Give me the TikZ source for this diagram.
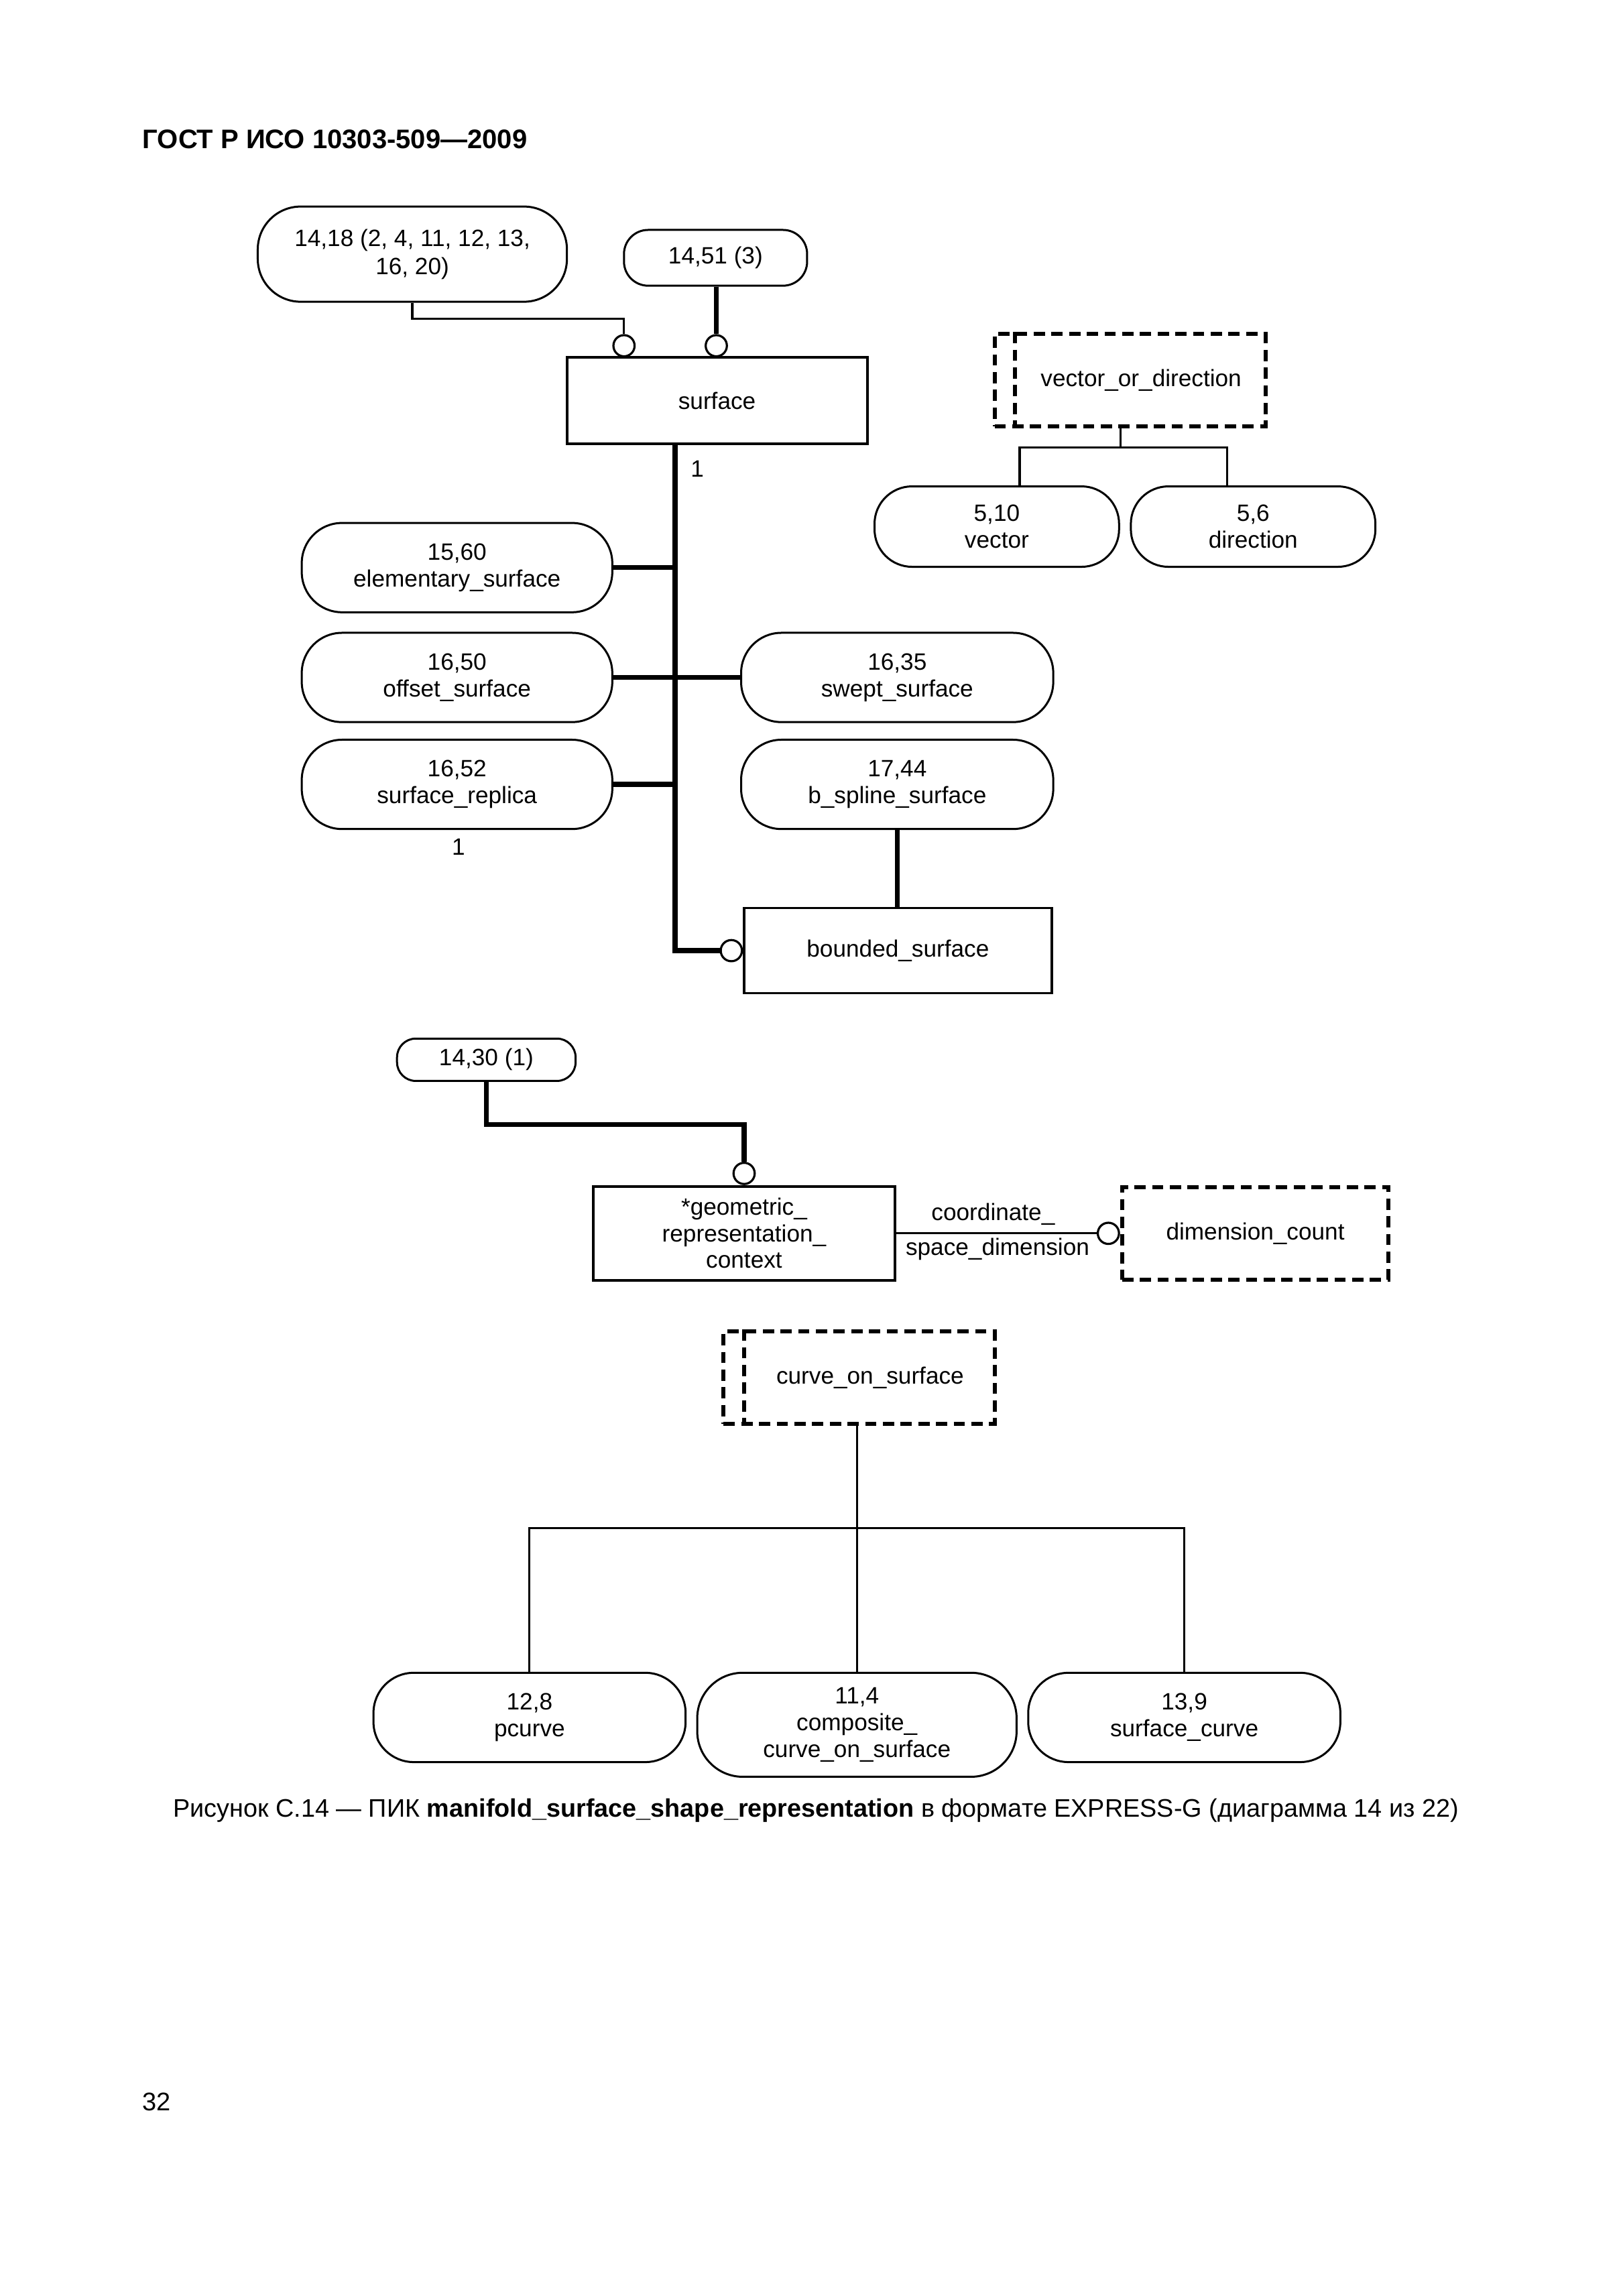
\documentclass[tikz,border=0pt]{standalone}
\usepackage{fontspec}
\setmainfont{Liberation Sans}
\usetikzlibrary{calc}
\begin{document}
\begin{tikzpicture}[x=0.54625pt,y=-0.54625pt,
  every node/.style={font=\fontsize{8.8}{9.9}\selectfont, inner sep=0pt, align=center},
  ent/.style={draw, line width=0.75pt, rounded corners=15pt, minimum width=115.8pt, minimum height=33.3pt},
  rbox/.style={draw, line width=1pt, rectangle},
  dashpat/.style={line width=1.5pt, dash pattern=on 4.2pt off 2.4pt},
  dbox/.style={draw, dashpat, rectangle},
  thinln/.style={line width=0.8pt},
  thickln/.style={line width=1.85pt},
  circ/.style={draw, circle, line width=0.8pt, minimum size=7.9pt, fill=white}
]
\useasboundingbox (0,0) rectangle (1108,1567.5);
\fill[white] (0,0) rectangle (1108,1567.5);

% header
\node[anchor=west, font=\fontsize{10}{12}\selectfont\bfseries] (hdr) at (97,95) {ГОСТ Р ИСО 10303-509—2009};

% top part
\node[ent, minimum width=115.3pt, minimum height=35.5pt, rounded corners=16pt] (A) at (281.5,173.5) {14,18 (2, 4, 11, 12, 13,\\[0.5pt]16, 20)};
\node[ent, minimum width=68.3pt, minimum height=20.8pt, rounded corners=9pt] (B) at (488.5,176) {14,51 (3)};
\node[rbox, minimum width=112pt, minimum height=32.2pt] (surface) at (489.5,273.5) {surface};
\node[circ, anchor=south] (c1) at (426,244) {};
\node[circ, anchor=south] (c2) at (489,244) {};
\draw[thinln] (A.south) -- ++(0,11) -| (c1.north);
\draw[thickln] (c2.north |- B.south) -- (c2.north);

\node[ent] (elem) at (312,387.5) {15,60\\elementary\_surface};
\node[ent] (offset) at (312,462.5) {16,50\\offset\_surface};
\node[ent] (replica) at (312,535.5) {16,52\\surface\_replica};
\node[ent, minimum width=116.4pt] (swept) at (612.5,462.5) {16,35\\swept\_surface};
\node[ent, minimum width=116.4pt] (bspline) at (612.5,535.5) {17,44\\b\_spline\_surface};
\node[rbox, minimum width=114.7pt, minimum height=31.7pt, line width=0.85pt] (bounded) at (613,649) {bounded\_surface};
\node[circ, anchor=east] (c3) at (bounded.west) {};

\coordinate (sv) at ([xshift=-15.6pt]surface.south);
\draw[thickln] (sv) |- (c3.west);
\draw[thickln] (elem.east) -- (elem.east -| sv);
\draw[thickln] (offset.east) -- (swept.west);
\draw[thickln] (replica.east) -- (replica.east -| sv);
\draw[thickln] (bspline.south) -- (bspline.south |- bounded.north);
\node (one1) at (476,320) {1};
\node (one2) at (313,578) {1};

% vector_or_direction
\node[dbox, minimum width=101.1pt, minimum height=34.4pt] (vod) at (771.5,259.5) {\hspace*{8.2pt}vector\_or\_direction};
\draw[dashpat] ([xshift=8.3pt]vod.north west) -- ([xshift=8.3pt]vod.south west);
\node[ent, minimum width=91.2pt, minimum height=30pt, rounded corners=14pt] (vector) at (680.5,359.5) {5,10\\vector};
\node[ent, minimum width=91.2pt, minimum height=30pt, rounded corners=14pt] (direction) at (855.5,359.5) {5,6\\direction};
\draw[thinln] ([xshift=-3.55pt]vod.south) -- ++(0,13) coordinate (vj);
\draw[thinln] ([xshift=8.5pt]vector.north) |- (vj) -| ([xshift=-9.6pt]direction.north);

% geometric representation context
\node[ent, minimum width=66.6pt, minimum height=15.8pt, rounded corners=7pt] (c1430) at (332,723.5) {14,30 (1)};
\node[rbox, minimum width=112.5pt, minimum height=35pt] (grc) at (508,842) {*geometric\_\\representation\_\\context};
\node[circ, anchor=south] (c4) at (grc.north) {};
\draw[thickln] (c1430.south) -- ++(0,29) -| (c4.north);
\node[dbox, minimum width=99.4pt, minimum height=34.4pt] (dim) at (857,842) {dimension\_count};
\node[circ, anchor=east] (c5) at (dim.west) {};
\draw[thinln] (grc.east) -- (c5.west);
\node (lab1) at (678,829) {coordinate\_};
\node (lab2) at (681,853) {space\_dimension};

% curve_on_surface
\node[dbox, minimum width=101.1pt, minimum height=34.4pt] (cos) at (586.5,940.5) {\hspace*{8.2pt}curve\_on\_surface};
\draw[dashpat] ([xshift=8.3pt]cos.north west) -- ([xshift=8.3pt]cos.south west);
\node[ent, minimum width=116.4pt] (pcurve) at (361.5,1172.5) {12,8\\pcurve};
\node[ent, minimum width=119.1pt, minimum height=38.8pt, rounded corners=17pt] (composite) at (585,1177.5) {11,4\\composite\_\\curve\_on\_surface};
\node[ent, minimum width=116.4pt] (surfcurve) at (808.5,1172.5) {13,9\\surface\_curve};
\draw[thinln] ([xshift=-0.8pt]cos.south) -- ++(0,70) coordinate (cj);
\draw[thinln] (pcurve.north) |- (cj) -| (surfcurve.north);
\draw[thinln] (cj) -- (cj |- composite.north);

% caption and page number
\node[font=\fontsize{9.45}{11}\selectfont] (cap) at (557,1236) {Рисунок С.14 — ПИК \textbf{manifold\_surface\_shape\_representation} в формате EXPRESS-G (диаграмма 14 из 22)};
\node[font=\fontsize{9.5}{11}\selectfont] (pg) at (107,1435) {32};
\end{tikzpicture}
\end{document}
